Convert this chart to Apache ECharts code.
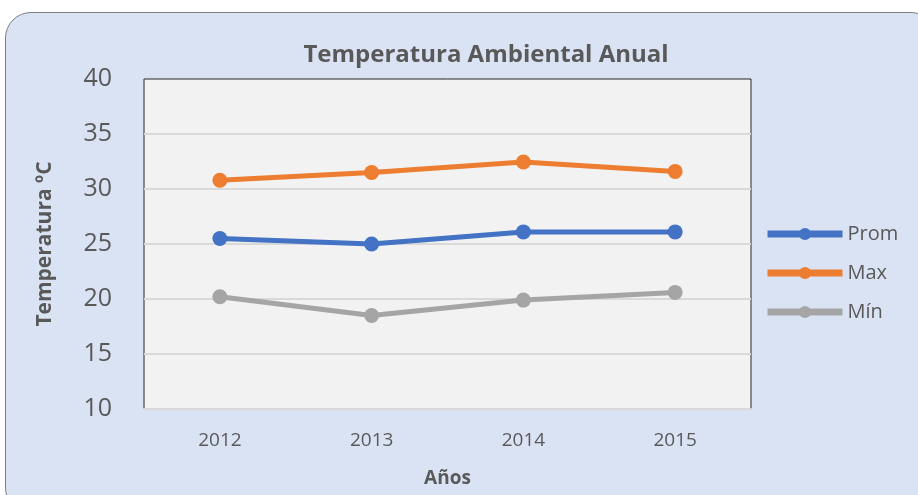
<!DOCTYPE html>
<html>
<head>
<meta charset="utf-8">
<script src="https://cdn.jsdelivr.net/npm/echarts@6/dist/echarts.min.js"></script>
<style>
  html, body { margin: 0; padding: 0; background: #fff; }
  #card {
    position: absolute; left: 5px; top: 12px; width: 930px; height: 500px;
    background: #DAE3F3; border: 1px solid #7f7f7f; border-radius: 26px;
  }
  #main { position: absolute; left: 0; top: 0; width: 918px; height: 495px; }
</style>
</head>
<body>
<div id="card"></div>
<div id="main"></div>
<script>
  // datos
  const years = ['2012', '2013', '2014', '2015'];
  const prom = [25.5, 25.0, 26.1, 26.1];
  const max = [30.8, 31.5, 32.45, 31.6];
  const min = [20.2, 18.5, 19.9, 20.6];
  const seriesNames = ['Prom', 'Max', 'Mín'];
  const colors = ['#4472C4', '#ED7D31', '#A5A5A5'];

  const font = '"Open Sans", sans-serif';

  const chart = echarts.init(document.getElementById('main'));

  const mkSeries = (name, data, color) => ({
    name: name,
    type: 'line',
    data: data,
    symbol: 'circle',
    symbolSize: 15,
    lineStyle: { width: 5, color: color },
    itemStyle: { color: color },
    animation: false
  });

  chart.setOption({
    textStyle: { fontFamily: font },
    title: {
      text: 'Temperatura Ambiental Anual',
      left: 481, top: 38, textAlign: 'center',
      textStyle: { fontSize: 24, fontWeight: 'bold', color: '#595959', fontFamily: font }
    },
    legend: {
      orient: 'vertical',
      left: 759, top: 219,
      itemWidth: 75, itemHeight: 15, itemGap: 19,
      data: seriesNames,
      lineStyle: { width: 7 },
      textStyle: { fontSize: 20, color: '#595959' }
    },
    grid: {
      left: 144, right: 167, top: 79, bottom: 86,
      outerBoundsMode: 'none',
      show: true, backgroundColor: '#F2F2F2', borderColor: '#262626', borderWidth: 1
    },
    xAxis: {
      type: 'category',
      data: years,
      boundaryGap: true,
      name: 'Años',
      nameLocation: 'middle',
      nameGap: 60,
      nameTextStyle: { fontSize: 19, fontWeight: 'bold', color: '#595959' },
      axisLine: { lineStyle: { color: '#D9D9D9', width: 2 } },
      axisTick: { show: false },
      axisLabel: { fontSize: 19, color: '#595959', margin: 22 }
    },
    yAxis: {
      type: 'value',
      min: 10, max: 40, interval: 5,
      name: 'Temperatura ºC',
      nameLocation: 'middle',
      nameGap: 88,
      nameTextStyle: { fontSize: 21, fontWeight: 'bold', color: '#595959' },
      axisLine: { show: false },
      axisTick: { show: false },
      axisLabel: { fontSize: 25, color: '#595959', margin: 32 },
      splitLine: { showMaxLine: false, lineStyle: { color: '#D9D9D9', width: 2 } }
    },
    series: [
      mkSeries(seriesNames[0], prom, colors[0]),
      mkSeries(seriesNames[1], max, colors[1]),
      mkSeries(seriesNames[2], min, colors[2])
    ]
  });
</script>
</body>
</html>
